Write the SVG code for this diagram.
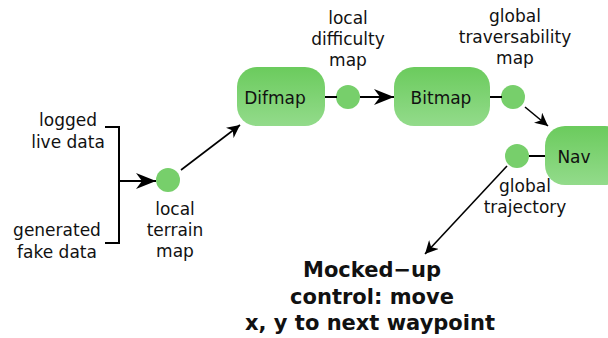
<svg xmlns="http://www.w3.org/2000/svg" width="608" height="338" viewBox="0 0 608 338">
<style>
text{font-family:"DejaVu Sans",sans-serif;font-size:17px;fill:#111;text-anchor:middle}
.b{font-weight:bold;font-size:21px}
.box{fill:url(#g)}
.dot{fill:#77cf6b}
.ln{stroke:#000;stroke-width:2;fill:none}
.ar{stroke:#000;stroke-width:1.6;fill:none}
</style>
<defs>
<linearGradient id="g" x1="0" y1="0" x2="0" y2="1"><stop offset="0" stop-color="#6bcb5d"/><stop offset="1" stop-color="#93db8b"/></linearGradient>
<marker id="ah" viewBox="0 0 10 10" refX="10" refY="5" markerWidth="13" markerHeight="13" markerUnits="userSpaceOnUse" orient="auto"><path d="M0,0 L10,5 L0,10 L3,5 Z" fill="#000"/></marker>
<marker id="ah2" viewBox="0 0 10 10" refX="10" refY="5" markerWidth="20" markerHeight="20" markerUnits="userSpaceOnUse" orient="auto"><path d="M0,1 L10,5 L0,9 L3,5 Z" fill="#000"/></marker>
</defs>
<g id="inputs">
<text x="68" y="126">logged</text>
<text x="68" y="148">live data</text>
<text x="57" y="236">generated</text>
<text x="57" y="258">fake data</text>
</g>
<g id="difmap"><rect class="box" x="237" y="67" width="88" height="59" rx="20"/><text x="275" y="104">Difmap</text></g>
<g id="bitmap"><rect class="box" x="394" y="67" width="96" height="59" rx="20"/><text x="441" y="104">Bitmap</text></g>
<g id="nav"><rect class="box" x="545" y="126" width="80" height="59" rx="20"/><text x="574" y="163">Nav</text></g>
<g id="terrain"><circle class="dot" cx="168" cy="180" r="12"/><text x="175" y="215">local</text><text x="175" y="236">terrain</text><text x="175" y="257">map</text></g>
<g id="difficulty"><circle class="dot" cx="348" cy="97" r="12"/><text x="348" y="24">local</text><text x="348" y="45">difficulty</text><text x="348" y="66">map</text></g>
<g id="traversability"><circle class="dot" cx="513" cy="97" r="12"/><text x="515" y="22">global</text><text x="515" y="43">traversability</text><text x="515" y="64">map</text></g>
<g id="trajectory"><circle class="dot" cx="517" cy="156" r="12"/><text x="525" y="192">global</text><text x="525" y="213">trajectory</text></g>
<g id="control"><text class="b" x="372" y="277">Mocked−up</text><text class="b" x="372" y="304">control: move</text><text class="b" x="370" y="330">x, y to next waypoint</text></g>
<g id="connectors">
<path class="ln" d="M105,127 H119 V243 H105"/>
<path class="ln" d="M119,181 H156" marker-end="url(#ah2)"/>
<path class="ar" d="M181,170 L240,125" marker-end="url(#ah)"/>
<path class="ln" d="M325,97 H337"/>
<path class="ln" d="M360,97 H394" marker-end="url(#ah2)"/>
<path class="ln" d="M490,97 H502"/>
<path class="ar" d="M525,107 L548,126" marker-end="url(#ah)"/>
<path class="ln" d="M529,156 H545"/>
<path class="ar" d="M507,166 L425,254" marker-end="url(#ah)"/>
</g>
</svg>
